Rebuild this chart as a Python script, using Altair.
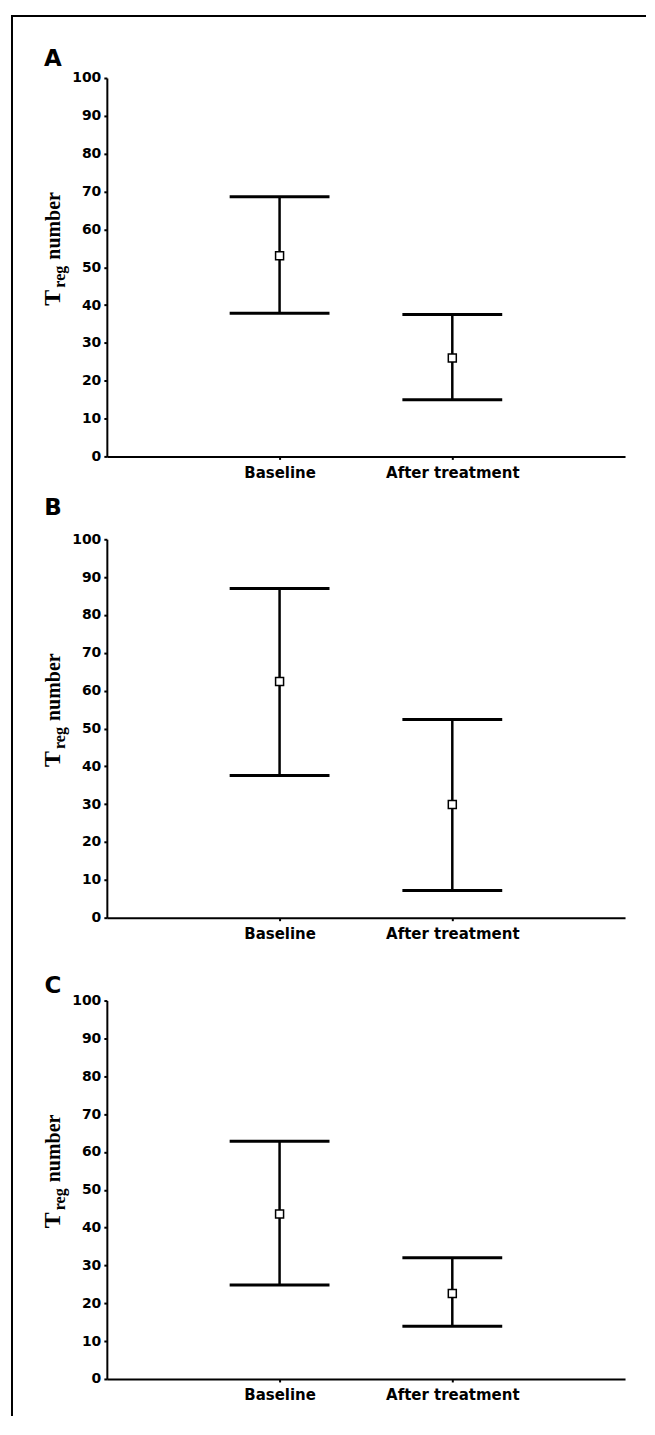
import altair as alt
import pandas as pd

categories = ["Baseline", "After treatment"]
y_ticks = [0, 10, 20, 30, 40, 50, 60, 70, 80, 90, 100]
panel_letters = ["A", "B", "C"]

mean_A = [53.0, 26.0]
lower_A = [37.8, 15.0]
upper_A = [68.6, 37.5]

mean_B = [62.4, 29.9]
lower_B = [37.6, 7.2]
upper_B = [87.0, 52.4]

mean_C = [43.6, 22.6]
lower_C = [24.8, 13.9]
upper_C = [62.8, 32.0]

title_main = "T"
title_sub = "reg"
title_rest = "number"

PLOT_W = 519
PLOT_H = 379


def make_panel(letter, mean, lower, upper, letter_y, with_border=False):
    df = pd.DataFrame({"group": categories, "mean": mean, "lower": lower, "upper": upper})
    xenc = alt.X(
        "group:N",
        sort=categories,
        scale=alt.Scale(type="point", padding=1),
        axis=alt.Axis(title=None, labelAngle=0, labelFontSize=15, labelPadding=6),
    )
    yscale = alt.Scale(domain=[0, 100], nice=False, zero=True)
    yaxis = alt.Axis(values=y_ticks, title=None, labelFontSize=14, labelPadding=3)
    base = alt.Chart(df)

    whisker = base.mark_rule(color="black", strokeWidth=2.5).encode(
        x=xenc, y=alt.Y("lower:Q", scale=yscale, axis=yaxis), y2="upper:Q"
    )
    cap_lo = base.mark_tick(color="black", size=100, thickness=3, opacity=1).encode(
        x=xenc, y=alt.Y("lower:Q", scale=yscale, axis=yaxis)
    )
    cap_hi = base.mark_tick(color="black", size=100, thickness=3, opacity=1).encode(
        x=xenc, y=alt.Y("upper:Q", scale=yscale, axis=yaxis)
    )
    pts = base.mark_point(
        shape="square", filled=True, fill="white", stroke="black",
        strokeWidth=1.5, size=64, opacity=1
    ).encode(x=xenc, y=alt.Y("mean:Q", scale=yscale, axis=yaxis))

    letter_txt = alt.Chart(pd.DataFrame({"t": [letter]})).mark_text(
        font="DejaVu Sans", fontWeight="bold", fontSize=23, align="center",
        baseline="alphabetic", color="black"
    ).encode(text="t:N", x=alt.value(-54), y=alt.value(letter_y))

    t_main = alt.Chart(pd.DataFrame({"t": [title_main]})).mark_text(
        font="Liberation Serif", fontWeight="bold", fontSize=24, angle=270,
        align="left", baseline="alphabetic", color="black"
    ).encode(text="t:N", x=alt.value(-47), y=alt.value(228))
    t_sub = alt.Chart(pd.DataFrame({"t": [title_sub]})).mark_text(
        font="Liberation Serif", fontWeight="bold", fontSize=16, angle=270,
        align="left", baseline="alphabetic", color="black"
    ).encode(text="t:N", x=alt.value(-42), y=alt.value(210))
    t_rest = alt.Chart(pd.DataFrame({"t": [title_rest]})).mark_text(
        font="Liberation Serif", fontWeight="bold", fontSize=20, angle=270,
        align="left", baseline="alphabetic", color="black"
    ).encode(text="t:N", x=alt.value(-47), y=alt.value(182))

    layers = [whisker, cap_lo, cap_hi, pts, letter_txt, t_main, t_sub, t_rest]
    if with_border:
        bdf = pd.DataFrame({"k": [0]})
        top_border = alt.Chart(bdf).mark_rule(color="black", strokeWidth=2, strokeCap="square").encode(
            x=alt.value(-95), x2=alt.value(539), y=alt.value(-62)
        )
        left_border = alt.Chart(bdf).mark_rule(color="black", strokeWidth=2, strokeCap="square").encode(
            x=alt.value(-95), y=alt.value(-62), y2=alt.value(1339)
        )
        layers += [top_border, left_border]
    return alt.layer(*layers).properties(width=PLOT_W, height=PLOT_H)


pA = make_panel(panel_letters[0], mean_A, lower_A, upper_A, -12, with_border=True)
pB = make_panel(panel_letters[1], mean_B, lower_B, upper_B, -24)
pC = make_panel(panel_letters[2], mean_C, lower_C, upper_C, -8)

chart = (
    alt.vconcat(pA, pB, pC, spacing=83, bounds="flush")
    .properties(padding={"left": 2, "top": 5, "right": 0, "bottom": 0}, background="white")
    .configure_view(stroke=None)
    .configure_axis(
        labelFont="DejaVu Sans", labelFontWeight="bold", labelColor="black",
        domainColor="black", domainWidth=2, tickColor="black", tickWidth=2,
        tickSize=3, grid=False
    )
)

chart.save("out.html", embed_options={"renderer": "svg", "actions": False})
